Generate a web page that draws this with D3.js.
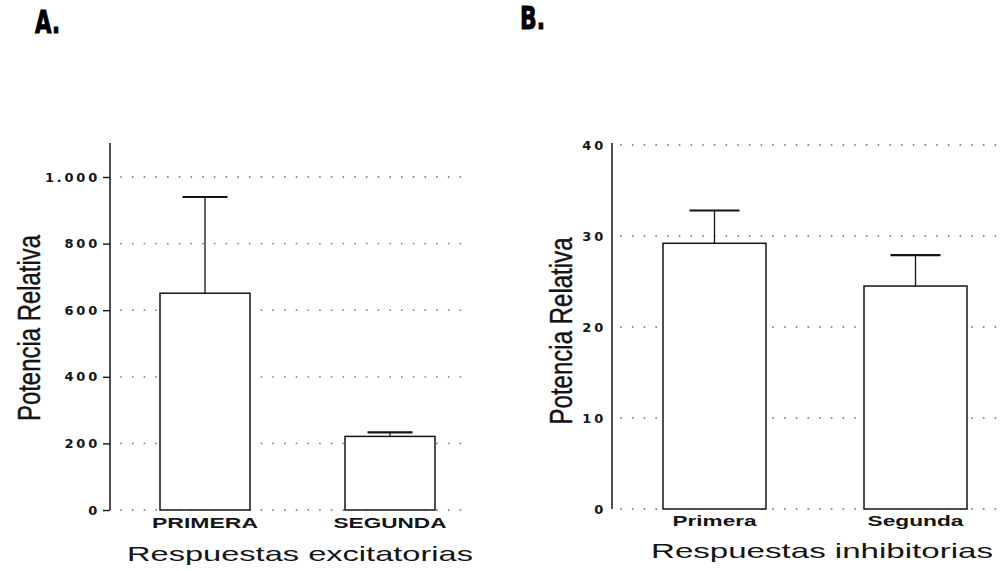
<!DOCTYPE html>
<html>
<head>
<meta charset="utf-8">
<script src="https://cdn.jsdelivr.net/npm/d3@7"></script>
<style>
  html, body { margin: 0; padding: 0; background: #fff; }
  svg { display: block; }
</style>
</head>
<body>
<svg id="chart" width="1004" height="571"></svg>
<script>
// Panel A: excitatory responses
const categoriasA = ["PRIMERA", "SEGUNDA"];
const mediasA = [651, 221];
const errorA = [289, 12];
const ticksA = [0, 200, 400, 600, 800, 1000];
const tickLabelsA = ["0", "200", "400", "600", "800", "1.000"];

// Panel B: inhibitory responses
const categoriasB = ["Primera", "Segunda"];
const mediasB = [29.2, 24.5];
const errorB = [3.6, 3.4];
const ticksB = [0, 10, 20, 30, 40];
const tickLabelsB = ["0", "10", "20", "30", "40"];

const svg = d3.select("#chart");
const ink = "#141414";
const gridColor = "#8a7f98";

function panel(cfg) {
  const g = svg.append("g");
  const y = d3.scaleLinear().domain(cfg.domain).range([cfg.y0, cfg.y1]);
  const x = d3.scalePoint().domain(cfg.cats).range(cfg.xRange).padding(0.5);

  // dotted reference lines
  g.append("g").selectAll("line").data(cfg.ticks)
    .join("line")
    .attr("x1", cfg.gridX[0]).attr("x2", cfg.gridX[1])
    .attr("y1", d => y(d)).attr("y2", d => y(d))
    .attr("stroke", gridColor).attr("stroke-width", 1.8)
    .attr("stroke-linecap", "round")
    .attr("stroke-dasharray", "0.1,11.6");

  // y axis
  const axis = d3.axisLeft(y).tickValues(cfg.ticks)
    .tickFormat((d, i) => cfg.tickLabels[i])
    .tickSize(cfg.tickSize).tickPadding(cfg.tickPadding);
  const ax = g.append("g").attr("transform", `translate(${cfg.axisX},0)`).call(axis);
  ax.select(".domain").remove();
  ax.selectAll(".tick line").attr("stroke", ink).attr("stroke-width", 1.4);
  ax.selectAll(".tick text")
    .attr("fill", ink)
    .style("font-family", "'DejaVu Sans', sans-serif")
    .style("font-weight", "bold")
    .style("font-size", "13px")
    .style("letter-spacing", "2.8px");
  g.append("line")
    .attr("x1", cfg.axisX).attr("x2", cfg.axisX)
    .attr("y1", y(0)).attr("y2", cfg.axisTop)
    .attr("stroke", ink).attr("stroke-width", 1.5);

  // error bars (upper only)
  const eb = g.append("g").selectAll("g").data(cfg.cats).join("g");
  eb.append("line")
    .attr("x1", d => x(d)).attr("x2", d => x(d))
    .attr("y1", (d, i) => y(cfg.means[i])).attr("y2", (d, i) => y(cfg.means[i] + cfg.err[i]))
    .attr("stroke", ink).attr("stroke-width", 1.3);
  eb.append("line")
    .attr("x1", d => x(d) - cfg.capW / 2).attr("x2", d => x(d) + cfg.capW / 2)
    .attr("y1", (d, i) => y(cfg.means[i] + cfg.err[i])).attr("y2", (d, i) => y(cfg.means[i] + cfg.err[i]))
    .attr("stroke", ink).attr("stroke-width", 2.2);

  // bars
  g.append("g").selectAll("rect").data(cfg.cats).join("rect")
    .attr("x", d => x(d) - cfg.barW / 2)
    .attr("width", cfg.barW)
    .attr("y", (d, i) => y(cfg.means[i]))
    .attr("height", (d, i) => y(0) - y(cfg.means[i]))
    .attr("fill", "#fff").attr("stroke", ink).attr("stroke-width", 1.5);

  // category labels
  g.append("g").selectAll("text").data(cfg.cats).join("text")
    .attr("x", d => x(d))
    .attr("y", cfg.catY)
    .attr("text-anchor", "middle")
    .attr("textLength", (d, i) => cfg.catLen[i])
    .attr("lengthAdjust", "spacingAndGlyphs")
    .attr("fill", ink)
    .style("font-family", "'Liberation Sans', Arial, sans-serif")
    .style("font-weight", "bold")
    .style("font-size", "14px")
    .text(d => d);

  // x title
  g.append("text")
    .attr("x", cfg.xTitle[0]).attr("y", cfg.xTitle[1])
    .attr("text-anchor", "middle")
    .attr("textLength", cfg.xTitle[2]).attr("lengthAdjust", "spacingAndGlyphs")
    .attr("fill", ink)
    .style("font-family", "'Liberation Sans', Arial, sans-serif")
    .style("font-size", "21px")
    .text(cfg.xTitleText);

  // y title
  g.append("text")
    .attr("transform", `translate(${cfg.yTitle[0]},${cfg.yTitle[1]}) rotate(-90)`)
    .attr("text-anchor", "middle")
    .attr("textLength", cfg.yTitle[2]).attr("lengthAdjust", "spacingAndGlyphs")
    .attr("fill", ink)
    .attr("stroke", ink).attr("stroke-width", 0.4)
    .style("font-family", "'Liberation Sans Narrow', 'Liberation Sans', Arial, sans-serif")
    .style("font-size", "31px")
    .text("Potencia Relativa");

  // panel letter
  g.append("text")
    .attr("x", cfg.letter[0]).attr("y", cfg.letter[1])
    .attr("textLength", 25).attr("lengthAdjust", "spacingAndGlyphs")
    .attr("fill", "#000")
    .attr("stroke", "#000").attr("stroke-width", 1)
    .style("font-family", "'DejaVu Sans', sans-serif")
    .style("font-weight", "bold")
    .style("font-size", "32px")
    .text(cfg.letterText);
}

panel({
  cats: categoriasA, means: mediasA, err: errorA,
  ticks: ticksA, tickLabels: tickLabelsA,
  domain: [0, 1000], y0: 510, y1: 177,
  axisX: 110, axisTop: 143, tickSize: 7, tickPadding: 3,
  xRange: [112.5, 482.5], barW: 90, capW: 45,
  gridX: [121, 470],
  catY: 528, catLen: [106, 113],
  xTitle: [300, 561, 346], xTitleText: "Respuestas excitatorias",
  yTitle: [40, 328, 186],
  letter: [35, 33], letterText: "A."
});

panel({
  cats: categoriasB, means: mediasB, err: errorB,
  ticks: ticksB, tickLabels: tickLabelsB,
  domain: [0, 40], y0: 509, y1: 145,
  axisX: 612, axisTop: 143, tickSize: 0, tickPadding: 6,
  xRange: [614, 1016], barW: 103, capW: 50,
  gridX: [621, 1004],
  catY: 526, catLen: [84, 96],
  xTitle: [822, 558, 342], xTitleText: "Respuestas inhibitorias",
  yTitle: [572, 331, 187],
  letter: [520, 29], letterText: "B."
});
</script>
</body>
</html>
